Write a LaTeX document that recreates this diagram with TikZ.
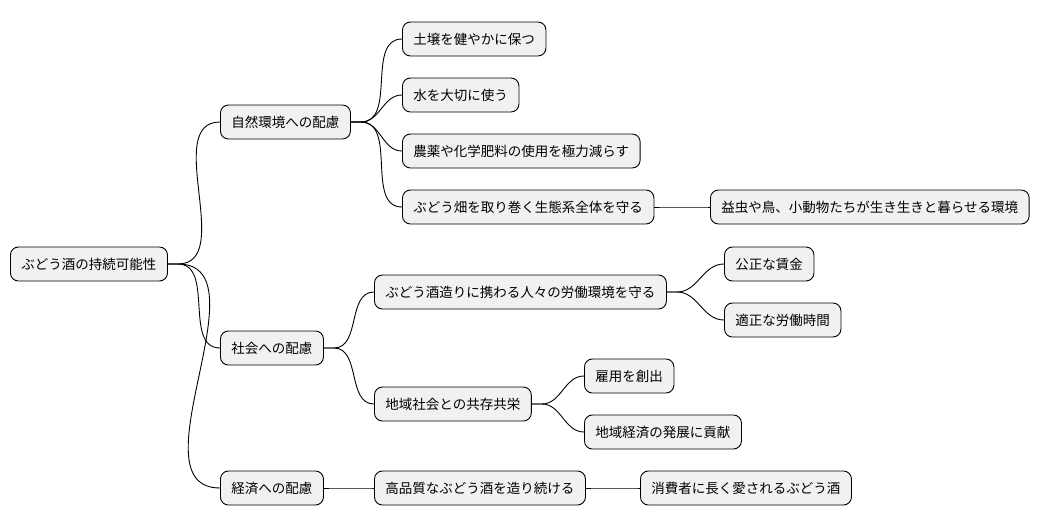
\documentclass[tikz,border=0pt]{standalone}
\usepackage{fontspec}
\setmainfont{Noto Sans CJK JP}
\definecolor{nodefill}{HTML}{F1F1F1}
\tikzset{
  mm/.style={draw=black, fill=nodefill, rounded corners=8pt, line width=0.9pt,
    minimum height=34pt, inner xsep=11pt, anchor=west, font=\fontsize{13.5}{16}\selectfont},
  link/.style={line width=0.9pt}
}
\newcommand{\lnk}[2]{\draw[link] (#1.east) -- ++(10,0) to[out=0,in=180] (#2.west);}
\begin{document}
\begin{tikzpicture}[x=1pt,y=-1pt]
\useasboundingbox (0,0) rectangle (1048,527);
\node[mm] (r) at (10,264) {ぶどう酒の持続可能性};
\node[mm] (n1) at (220,122) {自然環境への配慮};
\node[mm] (n11) at (402,39) {土壌を健やかに保つ};
\node[mm] (n12) at (402,95) {水を大切に使う};
\node[mm] (n13) at (402,151) {農薬や化学肥料の使用を極力減らす};
\node[mm] (n14) at (402,207) {ぶどう畑を取り巻く生態系全体を守る};
\node[mm] (n141) at (710,207) {益虫や鳥、小動物たちが生き生きと暮らせる環境};
\node[mm] (n2) at (220,348) {社会への配慮};
\node[mm] (n21) at (374,292) {ぶどう酒造りに携わる人々の労働環境を守る};
\node[mm] (n211) at (724,264) {公正な賃金};
\node[mm] (n212) at (724,320) {適正な労働時間};
\node[mm] (n22) at (374,404) {地域社会との共存共栄};
\node[mm] (n221) at (584,376) {雇用を創出};
\node[mm] (n222) at (584,432) {地域経済の発展に貢献};
\node[mm] (n3) at (220,488) {経済への配慮};
\node[mm] (n31) at (374,488) {高品質なぶどう酒を造り続ける};
\node[mm] (n311) at (640,488) {消費者に長く愛されるぶどう酒};
\lnk{r}{n1}\lnk{r}{n2}\lnk{r}{n3}
\lnk{n1}{n11}\lnk{n1}{n12}\lnk{n1}{n13}\lnk{n1}{n14}
\lnk{n14}{n141}
\lnk{n2}{n21}\lnk{n2}{n22}
\lnk{n21}{n211}\lnk{n21}{n212}
\lnk{n22}{n221}\lnk{n22}{n222}
\lnk{n3}{n31}\lnk{n31}{n311}
\end{tikzpicture}
\end{document}
